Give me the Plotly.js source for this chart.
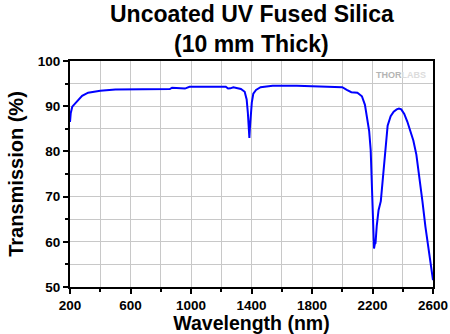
<!DOCTYPE html>
<html>
<head>
<meta charset="utf-8">
<script src="https://cdn.plot.ly/plotly-3.0.1.min.js"></script>
<style>html,body{margin:0;padding:0;background:#fff;}#chart{width:450px;height:334px;}</style>
</head>
<body>
<div id="chart"></div>
<script>
const wavelength = [200, 205, 215, 230, 250, 280, 320, 400, 500, 700, 860, 875, 940, 960, 990, 1100, 1230, 1245, 1260, 1280, 1330, 1355, 1368, 1376, 1382, 1386, 1390, 1395, 1402, 1412, 1430, 1460, 1540, 1700, 1850, 2000, 2030, 2060, 2100, 2130, 2150, 2165, 2178, 2188, 2195, 2200, 2205, 2210, 2215, 2220, 2228, 2240, 2255, 2265, 2280, 2290, 2300, 2320, 2340, 2360, 2375, 2390, 2410, 2430, 2450, 2470, 2490, 2510, 2530, 2550, 2570, 2590, 2600];
const transmission = [86.5, 88.5, 89.9, 90.5, 91.1, 92.3, 93.0, 93.4, 93.7, 93.8, 93.8, 94.1, 94.0, 93.9, 94.3, 94.3, 94.3, 93.9, 93.95, 94.2, 93.8, 93.2, 91.5, 88.5, 83.5, 83.0, 85.5, 88.0, 90.8, 92.8, 93.6, 94.2, 94.5, 94.5, 94.3, 94.2, 93.6, 93.1, 93.0, 92.2, 90.3, 87.5, 84.5, 80.3, 72, 64.8, 60.5, 58.5, 59.5, 59.7, 63.5, 67, 69, 73, 78.5, 83, 85.7, 87.8, 88.8, 89.3, 89.5, 89.3, 88.3, 86.6, 84.5, 82.4, 79.3, 74.5, 69, 63.3, 58.5, 53.8, 51.5];
const xTicks = [200, 600, 1000, 1400, 1800, 2200, 2600];
const yTicks = [50, 60, 70, 80, 90, 100];
const titleLines = ['Uncoated UV Fused Silica', '(10 mm Thick)'];

const fontFam = '"Liberation Sans", Arial, sans-serif';
const trace = {
  x: wavelength, y: transmission, type: 'scatter', mode: 'lines',
  line: {color: '#0000ff', width: 2}, hoverinfo: 'skip'
};
const titleFont = {family: fontFam, size: 23, weight: 'bold', color: '#000'};
const layout = {
  width: 450, height: 334,
  margin: {l: 69.5, r: 17.3, t: 61, b: 47},
  paper_bgcolor: '#fff', plot_bgcolor: '#fff',
  showlegend: false,
  xaxis: {
    range: [200, 2600], tickvals: xTicks, ticktext: xTicks.map(String),
    ticks: 'outside', ticklen: 5, tickwidth: 2, tickcolor: '#000',
    showline: true, linecolor: '#000', linewidth: 2, mirror: true,
    showgrid: true, gridcolor: '#c8c8c8', gridwidth: 1,
    minor: {dtick: 200, tick0: 200, ticks: 'outside', ticklen: 3, tickcolor: '#000', showgrid: true, gridcolor: '#c8c8c8', gridwidth: 1},
    tickfont: {family: fontFam, size: 13.5, weight: 'bold', color: '#000'},
    title: {text: 'Wavelength (nm)', font: {family: fontFam, size: 19.5, weight: 'bold', color: '#000'}, standoff: 4},
    zeroline: false, fixedrange: true
  },
  yaxis: {
    range: [50, 100], tickvals: yTicks, ticktext: yTicks.map(String),
    ticks: 'outside', ticklen: 5, tickwidth: 2, tickcolor: '#000',
    showline: true, linecolor: '#000', linewidth: 2, mirror: true,
    showgrid: true, gridcolor: '#c8c8c8', gridwidth: 1,
    minor: {dtick: 5, tick0: 50, ticks: 'outside', ticklen: 3, tickcolor: '#000', showgrid: true, gridcolor: '#c8c8c8', gridwidth: 1},
    tickfont: {family: fontFam, size: 13.5, weight: 'bold', color: '#000'},
    title: {text: 'Transmission (%)', font: {family: fontFam, size: 20, weight: 'bold', color: '#000'}, standoff: 9},
    zeroline: false, fixedrange: true
  },
  annotations: [
    {text: titleLines[0], xref: 'paper', yref: 'paper', x: 0.5, y: 1.2058, xanchor: 'center', yanchor: 'middle', showarrow: false, font: titleFont},
    {text: titleLines[1], xref: 'paper', yref: 'paper', x: 0.5, y: 1.0752, xanchor: 'center', yanchor: 'middle', showarrow: false, font: titleFont},
    {
      text: 'THOR<span style="color:#dcdcdc">LABS</span>',
      xref: 'paper', yref: 'paper', x: 0.986, y: 0.968, xanchor: 'right', yanchor: 'top',
      showarrow: false, font: {family: '"Liberation Sans Narrow", "Liberation Sans", Arial, sans-serif', size: 9, weight: 'bold', color: '#b4b4b4'}
    }
  ]
};
Plotly.newPlot('chart', [trace], layout, {displayModeBar: false, staticPlot: true});
</script>
</body>
</html>
